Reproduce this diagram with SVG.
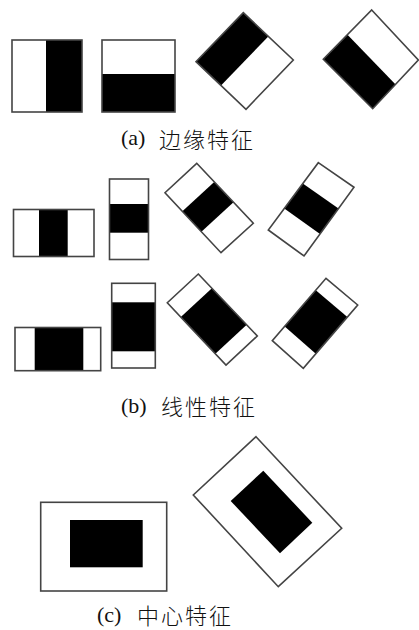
<svg xmlns="http://www.w3.org/2000/svg" width="419" height="630" viewBox="0 0 419 630">
<style>
.bg{fill:#fff;stroke:none}
.k{fill:#000;stroke:none}
.o{fill:none;stroke:#444;stroke-width:1.6;stroke-linejoin:miter}
.lat{font-family:"Liberation Serif","Times New Roman",serif;font-size:22px;fill:#111}
.cjk{font-family:"Noto Sans CJK SC","Noto Sans CJK JP",sans-serif;font-size:22px;letter-spacing:2px;fill:#111;font-weight:300}
</style>
<rect x="0" y="0" width="419" height="630" fill="#fff"/>

<g id="edge-features">
  <g id="a1">
    <rect class="bg" x="12" y="40" width="70" height="72"/>
    <rect class="k" x="46" y="40" width="36" height="72"/>
    <rect class="o" x="12" y="40" width="70" height="72"/>
  </g>
  <g id="a2">
    <rect class="bg" x="102" y="40" width="73" height="72"/>
    <rect class="k" x="102" y="74" width="73" height="38"/>
    <rect class="o" x="102" y="40" width="73" height="72"/>
  </g>
  <g id="a3">
    <polygon class="bg" points="243.3,12.7 293.3,60 246,109.3 196,61.7"/>
    <polygon class="k" points="196,61.7 243.3,12.7 268.3,36.4 221,85.5"/>
    <polygon class="o" points="243.3,12.7 293.3,60 246,109.3 196,61.7"/>
  </g>
  <g id="a4">
    <polygon class="bg" points="371.7,10 418.3,60 372.7,108.7 323.3,59.3"/>
    <polygon class="k" points="347.5,34.7 323.3,59.3 372.7,108.7 395.6,84.4"/>
    <polygon class="o" points="371.7,10 418.3,60 372.7,108.7 323.3,59.3"/>
  </g>
  <g id="label-a">
    <text class="lat" x="121" y="144.5">(a)</text>
    <text class="cjk" x="159" y="148">边缘特征</text>
  </g>
</g>

<g id="line-features">
  <g id="b1">
    <rect class="bg" x="13.5" y="209.5" width="80.5" height="47"/>
    <rect class="k" x="39" y="209.5" width="28.7" height="47"/>
    <rect class="o" x="13.5" y="209.5" width="80.5" height="47"/>
  </g>
  <g id="b2">
    <rect class="bg" x="109.5" y="179" width="39" height="80.5"/>
    <rect class="k" x="109.5" y="204" width="39" height="28.7"/>
    <rect class="o" x="109.5" y="179" width="39" height="80.5"/>
  </g>
  <g id="b3">
    <polygon class="bg" points="196.7,163.3 253.3,223.3 221,252.7 165,192.7"/>
    <polygon class="k" points="214.2,181.9 233.5,202.3 201.4,231.7 182.4,211.3"/>
    <polygon class="o" points="196.7,163.3 253.3,223.3 221,252.7 165,192.7"/>
  </g>
  <g id="b4">
    <polygon class="bg" points="318.3,162.7 354,187.3 304,256 268.3,230"/>
    <polygon class="k" points="302.8,183.6 338.5,208.6 320,234 284.3,208.5"/>
    <polygon class="o" points="318.3,162.7 354,187.3 304,256 268.3,230"/>
  </g>
  <g id="b5">
    <rect class="bg" x="15" y="327.5" width="85.7" height="43.2"/>
    <rect class="k" x="34.7" y="327.5" width="48.6" height="43.2"/>
    <rect class="o" x="15" y="327.5" width="85.7" height="43.2"/>
  </g>
  <g id="b6">
    <rect class="bg" x="111.7" y="283.3" width="43.6" height="84.7"/>
    <rect class="k" x="111.7" y="302.3" width="43.6" height="49"/>
    <rect class="o" x="111.7" y="283.3" width="43.6" height="84.7"/>
  </g>
  <g id="b7">
    <polygon class="bg" points="198.3,274 257.3,336 226,365 167.3,302.7"/>
    <polygon class="k" points="211.9,288.3 246.7,324.8 215.4,353.8 180.8,317"/>
    <polygon class="o" points="198.3,274 257.3,336 226,365 167.3,302.7"/>
  </g>
  <g id="b8">
    <polygon class="bg" points="326,278.3 357.7,305 303.3,368.3 272.3,340.7"/>
    <polygon class="k" points="315.8,290.2 347.4,317 315.8,353.7 284.7,326.4"/>
    <polygon class="o" points="326,278.3 357.7,305 303.3,368.3 272.3,340.7"/>
  </g>
  <g id="label-b">
    <text class="lat" x="121" y="413">(b)</text>
    <text class="cjk" x="161" y="415">线性特征</text>
  </g>
</g>

<g id="center-features">
  <g id="c1">
    <rect class="bg" x="40.7" y="502.3" width="126" height="88.7"/>
    <rect class="k" x="70" y="520" width="72.7" height="47.3"/>
    <rect class="o" x="40.7" y="502.3" width="126" height="88.7"/>
  </g>
  <g id="c2">
    <polygon class="bg" points="256,436.7 341.7,528.3 278.3,586.7 193.3,495"/>
    <polygon class="k" points="263.3,470.7 312.3,522.7 280,553.3 230.7,501"/>
    <polygon class="o" points="256,436.7 341.7,528.3 278.3,586.7 193.3,495"/>
  </g>
  <g id="label-c">
    <text class="lat" x="97" y="622">(c)</text>
    <text class="cjk" x="137" y="624">中心特征</text>
  </g>
</g>

<g id="connectors"></g>
</svg>
